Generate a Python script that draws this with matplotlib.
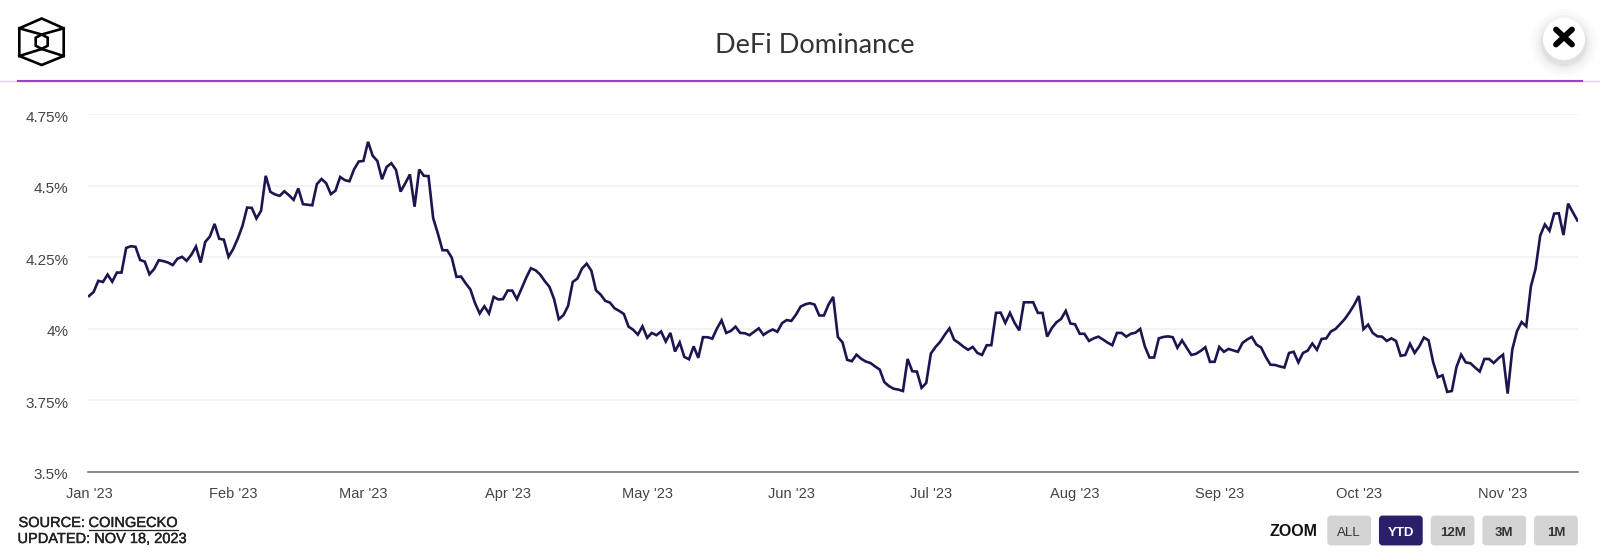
import pandas as pd
import matplotlib.pyplot as plt
import matplotlib.patheffects as pe
from matplotlib.patches import Circle, FancyBboxPatch, Polygon
from matplotlib.transforms import ScaledTranslation

# daily values, Jan 1 to Nov 17
dominance = [
    4.115, 4.129, 4.168, 4.164, 4.19, 4.165, 4.197, 4.197, 4.283, 4.289, 4.287, 4.241, 4.235, 4.191, 4.209,
    4.24, 4.237, 4.232, 4.223, 4.245, 4.252, 4.238, 4.259, 4.288, 4.232, 4.304, 4.323, 4.367, 4.315, 4.312,
    4.252, 4.279, 4.316, 4.36, 4.424, 4.423, 4.386, 4.413, 4.535, 4.479, 4.47, 4.465, 4.481, 4.467, 4.451,
    4.491, 4.436, 4.434, 4.432, 4.506, 4.524, 4.509, 4.471, 4.483,
    4.531, 4.52, 4.516, 4.558, 4.585, 4.587, 4.654, 4.605, 4.587, 4.523, 4.566, 4.579, 4.556, 4.48, 4.509,
    4.54, 4.427, 4.557, 4.535, 4.534, 4.387, 4.334, 4.275, 4.275, 4.249, 4.182, 4.183, 4.159, 4.138, 4.09,
    4.054, 4.079, 4.054, 4.112, 4.103, 4.104, 4.134, 4.134, 4.104, 4.141, 4.179, 4.212, 4.205, 4.19, 4.167,
    4.147, 4.104, 4.034, 4.048, 4.08, 4.164, 4.176, 4.211,
    4.228, 4.204, 4.135, 4.12, 4.098, 4.092, 4.072, 4.063, 4.052, 4.008, 3.997, 3.98, 4.009, 3.969, 3.986,
    3.978, 3.991, 3.956, 3.986, 3.921, 3.953, 3.902, 3.894, 3.939, 3.899, 3.971, 3.971, 3.966, 4.001, 4.03,
    3.986, 3.993, 4.008, 3.986, 3.985, 3.978, 3.99, 4.002, 3.979, 3.99, 3.998, 3.99, 4.02, 4.031, 4.028,
    4.05, 4.078, 4.086, 4.09, 4.085, 4.047, 4.047, 4.085, 4.112,
    3.972, 3.953, 3.892, 3.887, 3.91, 3.896, 3.886, 3.881, 3.869, 3.858, 3.814, 3.8, 3.791, 3.788, 3.783,
    3.895, 3.852, 3.851, 3.794, 3.811, 3.914, 3.937, 3.955, 3.98, 4.002, 3.962, 3.951, 3.938, 3.927, 3.937,
    3.916, 3.909, 3.943, 3.943, 4.056, 4.057, 4.021, 4.056, 4.021, 3.995, 4.093, 4.093, 4.093, 4.056, 4.056,
    3.973, 4.003, 4.023, 4.035, 4.063, 4.019, 4.016, 3.983, 3.983,
    3.958, 3.967, 3.973, 3.963, 3.952, 3.943, 3.986, 3.986, 3.973, 3.983, 3.987, 4.0, 3.939, 3.9, 3.9,
    3.967, 3.972, 3.974, 3.971, 3.934, 3.96, 3.934, 3.909, 3.913, 3.923, 3.936, 3.885, 3.885, 3.937, 3.92,
    3.93, 3.925, 3.92, 3.951, 3.963, 3.972, 3.945, 3.935, 3.902, 3.875, 3.874, 3.869, 3.865, 3.916, 3.92,
    3.883, 3.916, 3.924, 3.949, 3.927, 3.965, 3.967, 3.991, 4.0,
    4.017, 4.035, 4.058, 4.084, 4.115, 3.999, 4.015, 3.986, 3.974, 3.973, 3.958, 3.967, 3.958, 3.906, 3.909,
    3.948, 3.916, 3.939, 3.97, 3.96, 3.883, 3.831, 3.838, 3.78, 3.783, 3.867, 3.91, 3.883, 3.88, 3.865,
    3.851, 3.895, 3.895, 3.881, 3.897, 3.91, 3.774, 3.928, 3.992, 4.024, 4.009, 4.149, 4.21, 4.326, 4.365,
    4.343, 4.403, 4.404, 4.328, 4.438, 4.408, 4.379,
]
dates = pd.date_range('2023-01-01', periods=len(dominance))

y_ticks = [3.5, 3.75, 4, 4.25, 4.5, 4.75]
y_labels = ['3.5%', '3.75%', '4%', '4.25%', '4.5%', '4.75%']
month_starts = pd.date_range('2023-01-01', '2023-11-01', freq='MS')
month_labels = ["Jan '23", "Feb '23", "Mar '23", "Apr '23", "May '23", "Jun '23",
                "Jul '23", "Aug '23", "Sep '23", "Oct '23", "Nov '23"]
zoom_buttons = ['ALL', 'YTD', '12M', '3M', '1M']

W, H = 1600, 557
fig = plt.figure(figsize=(W / 100, H / 100), dpi=100, facecolor='white')

# page furniture is placed in pixel coordinates on a full figure overlay
page = fig.add_axes([0, 0, 1, 1], zorder=0)
page.set_xlim(0, W)
page.set_ylim(H, 0)
page.axis('off')

page.plot([0, W], [81, 81], color='#e2d2ec', lw=1)
page.plot([17, 1583], [81, 81], color='#9a3fcb', lw=1.5, solid_capstyle='butt')
page.text(815, 45.5, 'DeFi Dominance', fontsize=19.5, family='Lato', color='#333333', ha='center', va='center')

# logo
hex_outer = [(41.7, 18.5), (63.7, 28.3), (63.7, 56), (41.7, 65), (19.3, 56), (19.3, 28.3)]
hex_inner = [(41.7, 34.5), (47.7, 37.7), (47.7, 45.7), (41.7, 49), (35.7, 45.7), (35.7, 37.7)]
page.add_patch(Polygon(hex_outer, closed=True, fill=False, ec='black', lw=1.9))
page.add_patch(Polygon(hex_inner, closed=True, fill=False, ec='black', lw=1.9))
for (x0, y0), (x1, y1) in [((19.3, 28.3), (41.7, 34.5)), ((63.7, 28.3), (41.7, 34.5)),
                           ((19.3, 56), (41.7, 49)), ((63.7, 56), (41.7, 49))]:
    page.plot([x0, x1], [y0, y1], color='black', lw=1.9)

# close button with a soft shadow
for radius, alpha in [(34, 0.012), (31, 0.015), (28, 0.02), (25, 0.03), (23, 0.04)]:
    page.add_patch(Circle((1564, 43), radius, color='black', alpha=alpha, lw=0))
page.add_patch(Circle((1564, 39), 21, color='white', lw=0))
page.plot([1556, 1572], [29.5, 44.5], color='black', lw=4.2, solid_capstyle='round')
page.plot([1556, 1572], [44.5, 29.5], color='black', lw=4.2, solid_capstyle='round')

# chart area
ax = fig.add_axes([88 / W, (H - 472) / H, (1578 - 88) / W, (472 - 114.3) / H], zorder=1)
ax.patch.set_alpha(0)
ax.plot(dates, dominance, color='#1c1650', lw=1.9, solid_joinstyle='miter')
ax.set_xlim(pd.Timestamp('2022-12-31 19:00'), pd.Timestamp('2023-11-17 03:00'))
ax.set_ylim(3.5, 4.75)
ax.set_yticks(y_ticks)
ax.set_yticklabels(y_labels, fontsize=11, family='Liberation Sans', color='#444444', va='center')
ax.set_xticks(month_starts)
ax.set_xticklabels(month_labels, fontsize=10.5, family='Liberation Sans', color='#444444')
ax.tick_params(axis='y', length=0, pad=14)
ax.tick_params(axis='x', length=0, pad=10.5)
for label in ax.get_yticklabels():
    label.set_transform(label.get_transform() + ScaledTranslation(0, -2.5 / 72, fig.dpi_scale_trans))
ax.grid(axis='y', color='#f0f0f0', lw=1.1)
ax.set_axisbelow(True)
for side in ['top', 'right', 'left']:
    ax.spines[side].set_visible(False)
ax.spines['bottom'].set_color('#777777')
ax.spines['bottom'].set_linewidth(1.2)

# source note
stroke = [pe.withStroke(linewidth=0.3, foreground='#222222')]
page.text(18.5, 523, 'SOURCE: ', fontsize=10.5, family='Liberation Sans', color='#222222', va='center',
          path_effects=stroke)
link = page.text(88.5, 523, 'COINGECKO', fontsize=10.5, family='Liberation Sans', color='#222222', va='center',
                 path_effects=stroke)
fig.canvas.draw()
box = link.get_window_extent()
page.plot([box.x0, box.x1], [530, 530], color='#222222', lw=0.9)
page.text(17.5, 539, 'UPDATED: NOV 18, 2023', fontsize=10.5, family='Liberation Sans', color='#222222', va='center',
          path_effects=stroke)

# zoom buttons
page.text(1270, 532, 'ZOOM', fontsize=11.5, fontweight='bold', family='Liberation Sans', color='#111111', va='center')
for i, label in enumerate(zoom_buttons):
    left = 1327 + i * 51.7
    active = label == 'YTD'
    page.add_patch(FancyBboxPatch((left + 2, 517.3), 40.3, 26.4, boxstyle='round,pad=0,rounding_size=2',
                                  mutation_aspect=1, fc='#2a1f6b' if active else '#d4d4d4',
                                  ec='#2a1f6b' if active else '#d4d4d4', lw=2.5))
    text_color = 'white' if active else '#333333'
    weight = 'normal' if label == 'ALL' else 'bold'
    page.text(left + 22.2, 533, label, fontsize=9.5, fontweight=weight, family='Liberation Sans',
              color=text_color, ha='center', va='center')

fig.savefig('out.png', dpi=100)
